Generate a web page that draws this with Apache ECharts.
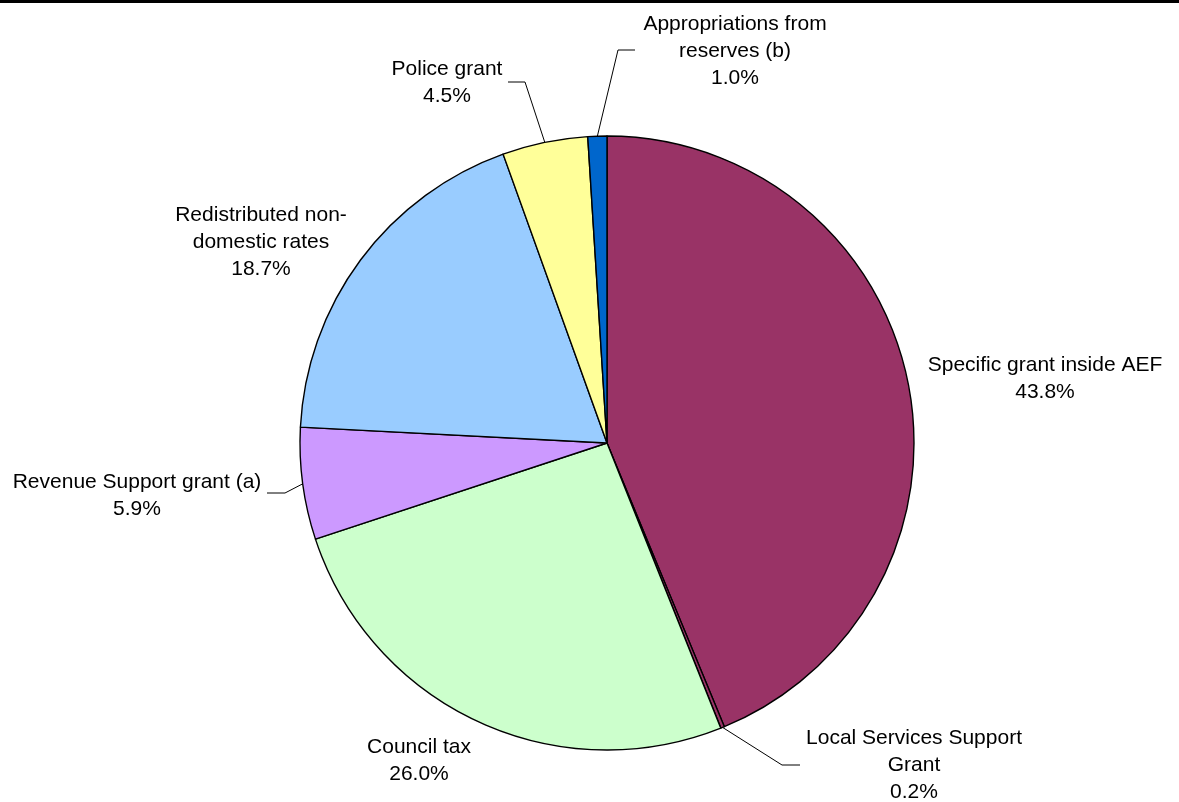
<!DOCTYPE html>
<html>
<head>
<meta charset="utf-8">
<script src="https://cdn.jsdelivr.net/npm/echarts@6/dist/echarts.min.js"></script>
<style>
html,body{margin:0;padding:0;background:#fff;}
#chart{width:1179px;height:802px;}
</style>
</head>
<body>
<div id="chart"></div>
<script>
const categories = [
  "Specific grant inside AEF",
  "Local Services Support\nGrant",
  "Council tax",
  "Revenue Support grant (a)",
  "Redistributed non-\ndomestic rates",
  "Police grant",
  "Appropriations from\nreserves (b)"
];
const shares = [43.8, 0.2, 26.0, 5.9, 18.7, 4.5, 1.0];
const colors = ["#993366", "#993366", "#CCFFCC", "#CC99FF", "#99CCFF", "#FFFF99", "#0066CC"];

// label placement (layout only): [centerX, centerY, [elbowX, elbowY, endX, endY] or null for no leader]
const labelPlace = [
  [1045, 379, null],
  [914, 765, [782, 765, 800, 765]],
  [419, 761, null],
  [137, 496, [285, 493, 267, 493]],
  [261, 242, null],
  [447, 83, [525, 82, 508, 82]],
  [735, 51, [618, 50, 635, 50]]
];

const chart = echarts.init(document.getElementById('chart'));
chart.setOption({
  animation: false,
  backgroundColor: '#ffffff',
  graphic: [{
    type: 'rect', left: 0, top: 0,
    shape: {width: 1179, height: 3},
    style: {fill: '#000'}
  }],
  series: [{
    type: 'pie',
    center: [607, 443],
    radius: 307,
    startAngle: 90,
    clockwise: true,
    avoidLabelOverlap: false,
    itemStyle: {borderColor: '#000', borderWidth: 1.4},
    label: {
      show: true,
      position: 'outside',
      fontFamily: 'Liberation Sans, Arial, sans-serif',
      fontSize: 21,
      lineHeight: 27,
      color: '#000',
      align: 'center',
      formatter: p => p.name + '\n' + p.value.toFixed(1) + '%'
    },
    labelLine: {show: true, lineStyle: {color: '#000', width: 1}},
    labelLayout: function (params) {
      const pl = labelPlace[params.dataIndex];
      const out = {x: pl[0], y: pl[1], align: 'center', verticalAlign: 'middle'};
      if (pl[2] && params.labelLinePoints) {
        const s = params.labelLinePoints[0];
        out.labelLinePoints = [[s[0], s[1]], [pl[2][0], pl[2][1]], [pl[2][2], pl[2][3]]];
      }
      return out;
    },
    data: categories.map((c, i) => ({
      name: c,
      value: shares[i],
      itemStyle: {color: colors[i]},
      labelLine: {show: labelPlace[i][2] !== null}
    }))
  }]
});
</script>
</body>
</html>
